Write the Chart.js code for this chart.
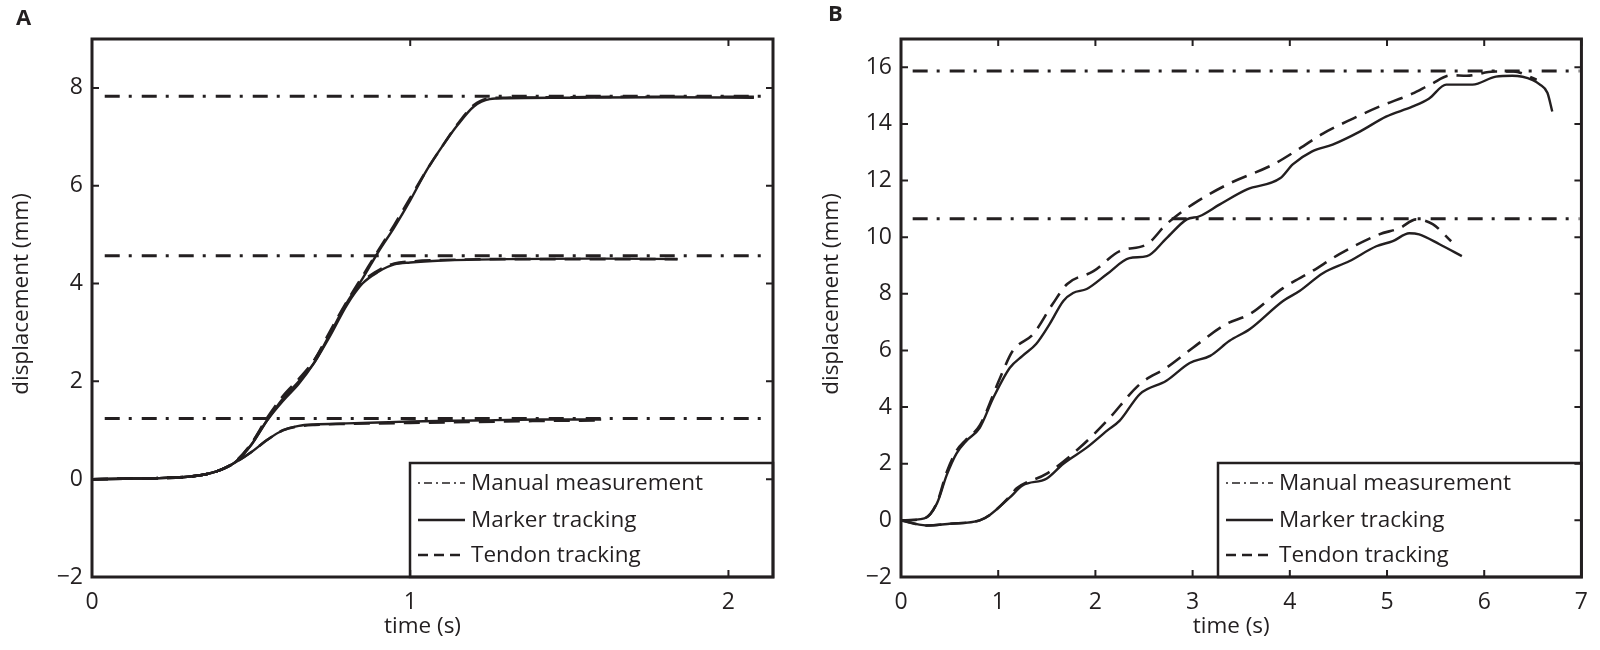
<!DOCTYPE html>
<html><head><meta charset="utf-8">
<script src="https://cdn.jsdelivr.net/npm/chart.js@4.4.1/dist/chart.umd.min.js"></script>
<style>
html,body{margin:0;padding:0;background:#fff;}
#wrap{position:relative;width:1600px;height:650px;overflow:hidden;}
.c{position:absolute;top:0;width:800px;height:650px;}
</style></head><body>
<div id="wrap">
<div class="c" style="left:0"><canvas id="ca" width="800" height="650"></canvas></div>
<div class="c" style="left:800px"><canvas id="cb" width="800" height="650"></canvas></div>
</div>
<script>
// ---------- Panel A data ----------
const aManualLevels = [7.83, 4.57, 1.24];
const aManualRange = [0.04, 2.13];

const aTopTime   = [0,0.1,0.2,0.3,0.35,0.4,0.45,0.5,0.55,0.6,0.65,0.7,0.75,0.8,0.85,0.9,0.95,1.0,1.05,1.1,1.15,1.2,1.25,1.3,1.5,1.8,2.08];
const aTopMarker = [0,0.01,0.02,0.05,0.09,0.18,0.35,0.7,1.2,1.65,2.0,2.4,3.0,3.6,4.1,4.65,5.15,5.7,6.3,6.8,7.25,7.62,7.77,7.79,7.8,7.81,7.8];
const aTopTendon = [0,0.01,0.02,0.05,0.09,0.18,0.36,0.72,1.25,1.7,2.05,2.45,3.05,3.62,4.15,4.68,5.2,5.75,6.3,6.8,7.27,7.65,7.79,7.8,7.81,7.82,7.82];

const aMidTime   = [0,0.1,0.2,0.3,0.35,0.4,0.45,0.5,0.55,0.6,0.65,0.7,0.75,0.8,0.85,0.9,0.95,1.0,1.1,1.3,1.6,1.84];
const aMidMarker = [0,0.01,0.02,0.05,0.09,0.18,0.35,0.7,1.2,1.6,1.95,2.4,2.95,3.55,4.0,4.24,4.39,4.43,4.47,4.5,4.51,4.5];
const aMidTendon = [0,0.01,0.02,0.05,0.09,0.18,0.35,0.72,1.22,1.62,1.98,2.45,3.0,3.58,4.03,4.27,4.41,4.45,4.48,4.5,4.5,4.5];

const aLowTime   = [0,0.1,0.2,0.3,0.35,0.4,0.45,0.5,0.55,0.6,0.65,0.7,0.8,0.9,1.0,1.2,1.4,1.6];
const aLowMarker = [0,0.01,0.02,0.05,0.09,0.18,0.34,0.55,0.8,1.0,1.09,1.12,1.14,1.16,1.18,1.2,1.22,1.22];
const aLowTendon = [0,0.01,0.02,0.05,0.09,0.18,0.34,0.55,0.8,1.0,1.08,1.11,1.13,1.14,1.15,1.17,1.19,1.2];

// ---------- Panel B data ----------
const bManualLevels = [15.87, 10.65];
const bManualRange = [0.12, 6.98];

const bUpMarkerTime = [0,0.24,0.37,0.47,0.57,0.67,0.81,0.95,1.12,1.25,1.39,1.53,1.67,1.77,1.91,2.12,2.35,2.53,2.73,2.94,3.07,3.28,3.56,3.9,4.03,4.23,4.44,4.72,4.99,5.26,5.43,5.61,5.88,6.12,6.29,6.5,6.57,6.65,6.7];
const bUpMarker     = [0,0.07,0.6,1.6,2.36,2.8,3.27,4.33,5.39,5.81,6.23,6.94,7.75,8.03,8.17,8.7,9.26,9.33,9.96,10.63,10.74,11.16,11.69,12.08,12.57,13.03,13.27,13.73,14.26,14.61,14.89,15.39,15.39,15.67,15.7,15.55,15.4,15.1,14.44];
const bUpTendonTime = [0,0.24,0.37,0.47,0.57,0.67,0.81,1.02,1.15,1.36,1.56,1.71,1.98,2.25,2.53,2.73,3.0,3.38,3.83,4.1,4.34,4.65,4.92,5.26,5.45,5.66,5.82,6.1,6.3,6.54];
const bUpTendon     = [0,0.07,0.62,1.7,2.45,2.85,3.35,5.04,5.99,6.58,7.64,8.35,8.8,9.51,9.75,10.46,11.16,11.9,12.57,13.13,13.66,14.19,14.61,15.07,15.4,15.72,15.7,15.85,15.85,15.56];

const bLowMarkerTime = [0,0.26,0.5,0.81,0.91,1.12,1.25,1.5,1.67,1.91,2.12,2.25,2.46,2.73,2.97,3.18,3.38,3.59,3.93,4.1,4.34,4.61,4.89,5.06,5.23,5.33,5.54,5.77];
const bLowMarker     = [0,-0.18,-0.12,0.0,0.18,0.81,1.23,1.48,2.0,2.57,3.17,3.52,4.47,4.93,5.56,5.81,6.34,6.76,7.75,8.1,8.73,9.15,9.68,9.86,10.14,10.1,9.75,9.33];
const bLowTendonTime = [0,0.26,0.5,0.81,0.91,1.12,1.19,1.5,1.84,2.12,2.46,2.73,3.0,3.35,3.59,3.93,4.23,4.51,4.92,5.13,5.3,5.47,5.66];
const bLowTendon     = [0,-0.18,-0.12,0.0,0.18,0.85,1.13,1.65,2.57,3.52,4.82,5.39,6.09,6.94,7.29,8.2,8.8,9.4,10.1,10.32,10.63,10.46,9.86];

// ---------- labels ----------
const legendLabels = ['Manual measurement', 'Marker tracking', 'Tendon tracking'];
const xTitle = 'time (s)';
const yTitle = 'displacement (mm)';

const INK = '#231f20';
const FONT = '"Open Sans", "Noto Sans", sans-serif';
const MANUAL_DASH = [15, 9, 3, 10];
const TENDON_DASH = [16, 9];

function pts(t, v) { return t.map((x, i) => ({x: x, y: v[i]})); }
function fmt(v) { return v < 0 ? '\u2212' + Math.abs(v) : String(v); }

function manualSets(levels, range) {
  return levels.map(l => ({
    data: [{x: range[0], y: l}, {x: range[1], y: l}],
    borderColor: INK, borderWidth: 3, borderDash: MANUAL_DASH, pointRadius: 0, tension: 0
  }));
}
function curve(t, v, dashed) {
  return {
    data: pts(t, v), borderColor: INK, borderWidth: dashed ? 2.6 : 2.4,
    borderDash: dashed ? TENDON_DASH : [], pointRadius: 0, cubicInterpolationMode: 'monotone'
  };
}

const decorPlugin = {
  id: 'decor',
  afterDatasetsDraw(chart, args, o) {
    const ctx = chart.ctx, ca = chart.chartArea;
    const xs = chart.scales.x, ys = chart.scales.y;
    ctx.save();
    // legend
    const L = o.legend;
    const lx = L.left, lr = ca.right, lt = L.top, lb = ca.bottom;
    ctx.fillStyle = '#fff';
    ctx.fillRect(lx, lt, lr - lx, lb - lt);
    ctx.strokeStyle = INK; ctx.lineWidth = 2.5; ctx.setLineDash([]);
    ctx.strokeRect(lx, lt, lr - lx, lb - lt);
    const rows = [lt + 20, lt + 57, lt + 92];
    const dashes = [[2, 4, 8, 4], [], [10, 6]];
    const widths = [1.6, 2.4, 2.4];
    for (let i = 0; i < 3; i++) {
      ctx.beginPath();
      ctx.setLineDash(dashes[i]);
      ctx.lineWidth = widths[i];
      ctx.moveTo(lx + 8, rows[i]); ctx.lineTo(lx + 55, rows[i]);
      ctx.stroke();
    }
    ctx.setLineDash([]);
    ctx.fillStyle = INK;
    ctx.font = '22.5px ' + FONT;
    ctx.textBaseline = 'middle'; ctx.textAlign = 'left';
    for (let i = 0; i < 3; i++) ctx.fillText(legendLabels[i], lx + 61, rows[i] + 1);

    // frame
    ctx.lineWidth = 3; ctx.strokeStyle = INK;
    ctx.strokeRect(ca.left, ca.top, ca.right - ca.left, ca.bottom - ca.top);
    // inward ticks
    ctx.lineWidth = 2;
    ctx.beginPath();
    xs.ticks.forEach(t => {
      const px = xs.getPixelForValue(t.value);
      ctx.moveTo(px, ca.bottom); ctx.lineTo(px, ca.bottom - 7);
      ctx.moveTo(px, ca.top); ctx.lineTo(px, ca.top + 7);
    });
    ys.ticks.forEach(t => {
      const py = ys.getPixelForValue(t.value);
      ctx.moveTo(ca.left, py); ctx.lineTo(ca.left + 7, py);
      ctx.moveTo(ca.right, py); ctx.lineTo(ca.right - 7, py);
    });
    ctx.stroke();

    // axis titles
    ctx.font = '22.5px ' + FONT;
    ctx.textAlign = 'center'; ctx.textBaseline = 'middle';
    ctx.fillText(xTitle, (ca.left + ca.right) / 2 - 10, o.xTitleY);
    ctx.save();
    ctx.translate(o.yTitleX, (ca.top + ca.bottom) / 2 - 14);
    ctx.rotate(-Math.PI / 2);
    ctx.fillText(yTitle, 0, 0);
    ctx.restore();
    // panel letter
    ctx.font = 'bold 22px ' + FONT;
    ctx.textAlign = 'left'; ctx.textBaseline = 'alphabetic';
    ctx.fillText(o.letter, o.letterX, o.letterY);
    ctx.restore();
  }
};

function makeChart(id, datasets, xMax, yMin, yMax, leftW, padRight, opts) {
  return new Chart(document.getElementById(id), {
    type: 'line',
    data: {datasets: datasets},
    options: {
      responsive: false, animation: false, devicePixelRatio: 1,
      parsing: true, normalized: true,
      layout: {padding: {top: 39, right: padRight, left: 0, bottom: 0}},
      plugins: {legend: {display: false}, tooltip: {enabled: false}, decor: opts},
      scales: {
        x: {
          type: 'linear', min: 0, max: xMax,
          grid: {display: false, drawTicks: false}, border: {display: false},
          ticks: {stepSize: 1, includeBounds: false, color: INK, font: {family: FONT, size: 23}, padding: 12, maxRotation: 0, autoSkip: false},
          afterFit: s => { s.height = 73; }
        },
        y: {
          type: 'linear', min: yMin, max: yMax,
          grid: {display: false, drawTicks: false}, border: {display: false},
          ticks: {stepSize: 2, includeBounds: false, color: INK, font: {family: FONT, size: 23}, padding: 9, callback: v => fmt(v)},
          afterFit: s => { s.width = leftW; }
        }
      }
    },
    plugins: [decorPlugin]
  });
}

const dsA = [].concat(
  manualSets(aManualLevels, aManualRange),
  [curve(aTopTime, aTopMarker, false), curve(aMidTime, aMidMarker, false), curve(aLowTime, aLowMarker, false),
   curve(aTopTime, aTopTendon, true), curve(aMidTime, aMidTendon, true), curve(aLowTime, aLowTendon, true)]
);
const dsB = [].concat(
  manualSets(bManualLevels, bManualRange),
  [curve(bUpMarkerTime, bUpMarker, false), curve(bLowMarkerTime, bLowMarker, false),
   curve(bUpTendonTime, bUpTendon, true), curve(bLowTendonTime, bLowTendon, true)]
);

makeChart('ca', dsA, 2.14, -2, 9, 92, 27,
  {legend: {left: 410, top: 463}, xTitleY: 627, yTitleX: 22, letter: 'A', letterX: 16, letterY: 25});
makeChart('cb', dsB, 7, -2, 17, 101, 18,
  {legend: {left: 418, top: 463}, xTitleY: 627, yTitleX: 32, letter: 'B', letterX: 28, letterY: 21});
</script>
</body></html>
